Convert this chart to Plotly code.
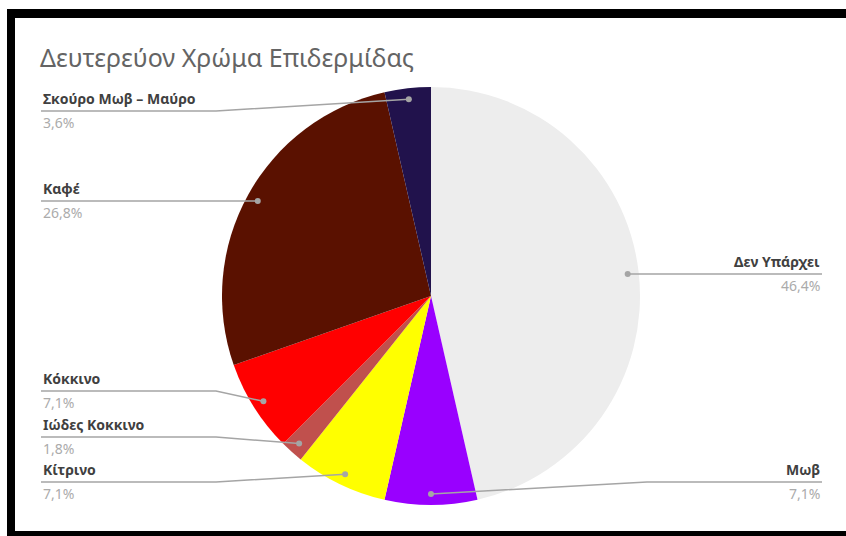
import math
import plotly.graph_objects as go

# Respondent counts per secondary skin colour (clockwise from 12 o'clock)
categories = ["Δεν Υπάρχει", "Μωβ", "Κίτρινο", "Ιώδες Κοκκινο", "Κόκκινο", "Καφέ", "Σκούρο Μωβ – Μαύρο"]
counts = [26, 4, 4, 1, 4, 15, 2]
slice_colors = ["#EDEDED", "#9900FF", "#FFFF00", "#C0504D", "#FF0000", "#5A1100", "#21124C"]
title_text = "Δευτερεύον Χρώμα Επιδερμίδας"

W, H = 846, 536
CX, CY, R = 431, 296, 209          # pie centre and radius in pixels
DOT_FRAC = 0.947                  # where the leader line touches the slice

# label placement: side and y of the underline beneath each label
label_side = ["right", "right", "left", "left", "left", "left", "left"]
label_line_y = [274, 482, 482, 437, 391, 201, 111]
LEFT_X, RIGHT_X = 41, 822
LEFT_ELBOW, RIGHT_ELBOW = 216, 647

total = sum(counts)
pct_text = [f"{c / total * 100:.1f}%".replace(".", ",") for c in counts]

fig = go.Figure()

fig.add_trace(go.Pie(
    labels=categories, values=counts, sort=False, direction="clockwise", rotation=0,
    marker=dict(colors=slice_colors, line=dict(width=0)),
    textinfo="none", hoverinfo="label+percent", showlegend=False,
    domain=dict(x=[(CX - R) / W, (CX + R) / W], y=[(H - CY - R) / H, (H - CY + R) / H]),
))

line_col = "#A5A5A5"
cum = 0
annotations = []
shapes = []
for name, c, side, ly, pt in zip(categories, counts, label_side, label_line_y, pct_text):
    mid = (cum + c / 2) / total * 2 * math.pi
    cum += c
    dx = CX + DOT_FRAC * R * math.sin(mid)
    dy = CY - DOT_FRAC * R * math.cos(mid)
    if side == "left":
        x0 = LEFT_X
        bend = dx > LEFT_ELBOW + 5 and abs(dy - ly) > 3
        pts = [(x0, ly), (LEFT_ELBOW, ly), (dx, dy)] if bend else [(x0, ly), (dx, ly)]
    else:
        x0 = RIGHT_X
        bend = dx < RIGHT_ELBOW - 5 and abs(dy - ly) > 3
        pts = [(x0, ly), (RIGHT_ELBOW, ly), (dx, dy)] if bend else [(x0, ly), (dx, ly)]
    if not bend:
        dy = ly
    path = "M " + " L ".join(f"{px:.2f},{py:.2f}" for px, py in pts)
    shapes.append(dict(type="path", path=path, xref="x", yref="y", layer="above",
                       line=dict(color=line_col, width=1.5)))
    shapes.append(dict(type="circle", xref="x", yref="y", layer="above",
                       x0=dx - 3, x1=dx + 3, y0=dy - 3, y1=dy + 3,
                       fillcolor=line_col, line=dict(width=0)))
    anchor = "left" if side == "left" else "right"
    annotations.append(dict(x=x0, y=ly - 13, text=f"<b>{name}</b>", showarrow=False,
                            xanchor=anchor, yanchor="middle", xref="x", yref="y",
                            font=dict(family="Noto Sans", size=14, color="#404040")))
    annotations.append(dict(x=x0, y=ly + 11, text=pt, showarrow=False,
                            xanchor=anchor, yanchor="middle", xref="x", yref="y",
                            font=dict(family="Noto Sans", size=14, color="#ABABAB")))

annotations.append(dict(x=38, y=57, text=title_text, showarrow=False, xanchor="left",
                        yanchor="middle", xref="x", yref="y",
                        font=dict(family="Noto Sans", size=25, color="#646464")))

# black frame around the chart area
frame = [
    dict(type="rect", x0=8, x1=W, y0=9, y1=18),
    dict(type="rect", x0=7, x1=15, y0=9, y1=H),
    dict(type="rect", x0=8, x1=W, y0=531, y1=H),
]
shapes += [dict(s, xref="x", yref="y", fillcolor="black", line=dict(width=0), layer="above")
           for s in frame]

fig.update_layout(
    width=W, height=H, margin=dict(l=0, r=0, t=0, b=0),
    paper_bgcolor="white", plot_bgcolor="rgba(0,0,0,0)",
    xaxis=dict(range=[0, W], visible=False, fixedrange=True),
    yaxis=dict(range=[H, 0], visible=False, fixedrange=True),
    annotations=annotations, shapes=shapes,
)

fig.write_html("out.html")
